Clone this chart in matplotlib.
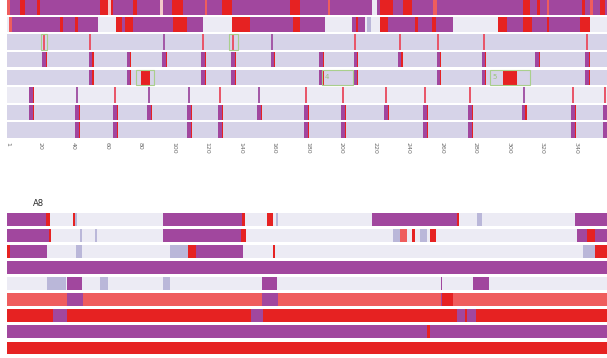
import matplotlib
matplotlib.use('Agg')
import matplotlib.pyplot as plt
from matplotlib.patches import Rectangle

# ---------------- colours (style) ----------------
COLORS = {'P': '#a1479e', 'R': '#e62222', 'r': '#ef5d5d', 'W': '#ecebf4',
          'L': '#d6d3e8', 'B': '#bab7d9', 'p': '#f3c9c9'}

# ---------------- data ----------------
X_START, X_END = 0.5, 358.7
tick_positions = [1, 20, 40, 60, 80, 100, 120, 140, 160, 180, 200, 220, 240,
                  260, 280, 300, 320, 340]
tick_labels = [str(t) for t in tick_positions]

# top panel: base state per row
top_bases = ['P', 'P', 'L', 'L', 'L', 'W', 'L', 'L']

top_row1 = [(0.5, 2.3, 'r'), (8.3, 11.2, 'R'), (18.4, 20.2, 'R'), (56.0, 61.0, 'R'),
            (61.0, 62.5, 'p'), (62.5, 64.0, 'R'), (75.7, 78.1, 'R'), (91.8, 93.6, 'p'),
            (99.0, 105.6, 'R'), (118.7, 120.0, 'r'), (128.9, 134.8, 'R'),
            (169.5, 175.4, 'R'), (192.0, 193.5, 'r'), (218.4, 221.4, 'W'),
            (223.2, 231.0, 'R'), (236.9, 242.3, 'R'), (254.8, 257.2, 'r'),
            (308.6, 312.8, 'R'), (317.0, 318.8, 'R'), (322.9, 324.0, 'r'),
            (344.0, 345.5, 'R'), (348.5, 350.3, 'r'), (354.5, 357.5, 'R')]
top_row2 = [(0.5, 1.7, 'W'), (1.7, 3.5, 'r'), (32.1, 33.9, 'R'), (41.1, 42.9, 'R'),
            (54.8, 65.6, 'W'), (65.6, 69.2, 'R'), (71.0, 75.7, 'R'), (99.6, 108.0, 'R'),
            (117.5, 134.8, 'W'), (134.8, 145.6, 'R'), (171.3, 175.4, 'R'),
            (190.3, 206.5, 'W'), (208.8, 210.0, 'R'), (214.2, 223.2, 'W'),
            (215.4, 217.8, 'B'), (223.2, 228.0, 'R'), (244.0, 246.0, 'R'),
            (254.2, 256.6, 'R'), (266.8, 293.6, 'W'), (293.6, 299.0, 'R'),
            (308.6, 314.0, 'R'), (322.9, 324.0, 'R'), (342.6, 348.6, 'R'),
            (348.6, 358.7, 'W')]
top_row5 = [(80.5, 85.9, 'R'), (296.6, 305.0, 'R')]
top_segments = [top_row1, top_row2, [], [], top_row5, [], [], []]

top_markers = [
    [], [],
    [22.6, 50.0, 94.0, 117.5, 135.5, 159.0, 208.5, 235.0, 258.0, 285.0, 346.7],
    [22.6, 50.5, 73.0, 94.2, 117.5, 135.5, 159.0, 188.0, 208.5, 235.0, 258.0,
     285.0, 317.0, 346.7],
    [50.5, 73.0, 117.5, 135.5, 188.0, 208.5, 258.0, 285.0, 346.7],
    [14.8, 42.3, 65.0, 85.3, 109.2, 127.7, 151.0, 179.0, 201.0, 226.8, 250.0,
     277.0, 309.0, 338.4, 357.5],
    [14.8, 42.3, 65.0, 85.3, 109.2, 127.7, 151.0, 179.0, 201.0, 226.8, 250.0,
     277.0, 309.0, 338.4, 357.5],
    [42.3, 65.0, 109.2, 127.7, 179.0, 201.0, 250.0, 277.0, 338.4, 357.5],
]
top_marker_kinds = ['', '', 'ttuttuttttt', 'm' * 14, 'm' * 9,
                    'mutuututttttutt', 'm' * 15, 'm' * 10]

# highlighted boxes: (row, start, end, label)
boxes = [(2, 20.8, 24.4, ''), (2, 133.0, 138.4, ''), (4, 77.5, 88.3, ''),
         (4, 188.6, 207.1, '4'), (4, 288.9, 312.7, '5')]

# bottom panel
bottom_title = 'A8'
bottom_bases = ['W', 'W', 'W', 'P', 'W', 'r', 'R', 'P', 'R']
bottom_segments = [
    [(0.5, 24.0, 'P'), (24.0, 26.2, 'R'), (39.9, 41.1, 'R'), (41.1, 42.0, 'B'),
     (93.6, 140.8, 'P'), (140.8, 142.6, 'R'), (155.7, 159.3, 'R'), (161.1, 162.3, 'B'),
     (218.4, 269.2, 'P'), (269.2, 270.4, 'R'), (281.1, 284.1, 'B'), (339.6, 358.7, 'P')],
    [(0.5, 25.6, 'P'), (25.6, 26.5, 'R'), (44.0, 45.0, 'B'), (53.0, 54.0, 'B'),
     (93.6, 140.2, 'P'), (140.2, 143.2, 'R'), (231.0, 235.0, 'B'), (235.0, 239.3, 'r'),
     (242.3, 244.1, 'R'), (247.1, 251.3, 'B'), (253.0, 256.6, 'R'),
     (340.8, 346.7, 'P'), (346.7, 351.5, 'R'), (351.5, 358.7, 'P')],
    [(0.5, 2.3, 'R'), (2.3, 24.4, 'P'), (41.7, 45.3, 'B'), (97.8, 108.6, 'B'),
     (108.6, 113.3, 'R'), (113.3, 141.4, 'P'), (159.3, 160.5, 'R'),
     (344.4, 351.5, 'B'), (351.5, 358.7, 'R')],
    [],
    [(24.4, 35.7, 'B'), (36.3, 45.3, 'P'), (56.0, 60.8, 'B'), (93.6, 97.8, 'B'),
     (152.7, 161.7, 'P'), (259.6, 260.4, 'P'), (278.6, 288.2, 'P')],
    [(36.3, 45.9, 'P'), (152.7, 162.3, 'P'), (259.6, 260.4, 'P'), (260.4, 267.0, 'R')],
    [(28.0, 36.3, 'P'), (146.2, 153.3, 'P'), (269.2, 280.5, 'P'), (273.8, 275.0, 'R')],
    [(251.3, 253.0, 'R')],
    [],
]

# ---------------- drawing ----------------
W, H = 607, 358
fig = plt.figure(figsize=(W / 100, H / 100), dpi=100)
fig.patch.set_facecolor('white')


def bar(ax, i, a, w, h, color):
    ax.barh(i, w, left=a, height=h, color=color, linewidth=0, antialiased=False)


def style_axes(ax, nrows):
    ax.set_xlim(X_START, X_END)
    ax.set_ylim(nrows - 0.5, -0.5)
    for s in ax.spines.values():
        s.set_visible(False)
    ax.set_yticks([])


def draw_row(ax, i, base, segs, h):
    bar(ax, i, X_START, X_END - X_START, h, COLORS[base])
    for a, b, c in segs:
        bar(ax, i, a, b - a, h, COLORS[c])


# top panel
axt = fig.add_axes([7 / W, 1 - 139 / H, 600 / W, 141 / H])
h_top = 0.88
for i, base in enumerate(top_bases):
    draw_row(axt, i, base, top_segments[i], h_top)
    for pos, kind in zip(top_markers[i], top_marker_kinds[i]):
        if kind == 'm':
            bar(axt, i, pos - 1.0, 2.0, h_top, COLORS['P'])
            bar(axt, i, pos + 1.0, 0.7, h_top, COLORS['R'])
        elif kind == 't':
            bar(axt, i, pos - 0.6, 1.2, h_top, '#e8576a')
        else:
            bar(axt, i, pos - 0.6, 1.2, h_top, '#a45aa8')
for row, a, b, lab in boxes:
    axt.add_patch(Rectangle((a, row - h_top / 2), b - a, h_top, fill=False,
                            edgecolor='#a9cf8c', linewidth=0.8))
    if lab:
        axt.text(a + 1.5, row, lab, color='#9cc57e', fontsize=5, va='center', ha='left')
style_axes(axt, len(top_bases))
axt.set_xticks(tick_positions)
axt.set_xticklabels(tick_labels, rotation=270, fontsize=4.5, color='#6b6b6b')
axt.tick_params(axis='x', length=0, pad=2)

# bottom panel
axb = fig.add_axes([7 / W, 1 - 356 / H, 600 / W, 145 / H])
h_bot = 0.8
for i, base in enumerate(bottom_bases):
    draw_row(axb, i, base, bottom_segments[i], h_bot)
style_axes(axb, len(bottom_bases))
axb.set_xticks([])
fig.text(33 / W, 1 - 203 / H, bottom_title, fontsize=6, color='#2a2a2a',
         ha='left', va='center')

fig.savefig('out.png', dpi=100, facecolor='white')
